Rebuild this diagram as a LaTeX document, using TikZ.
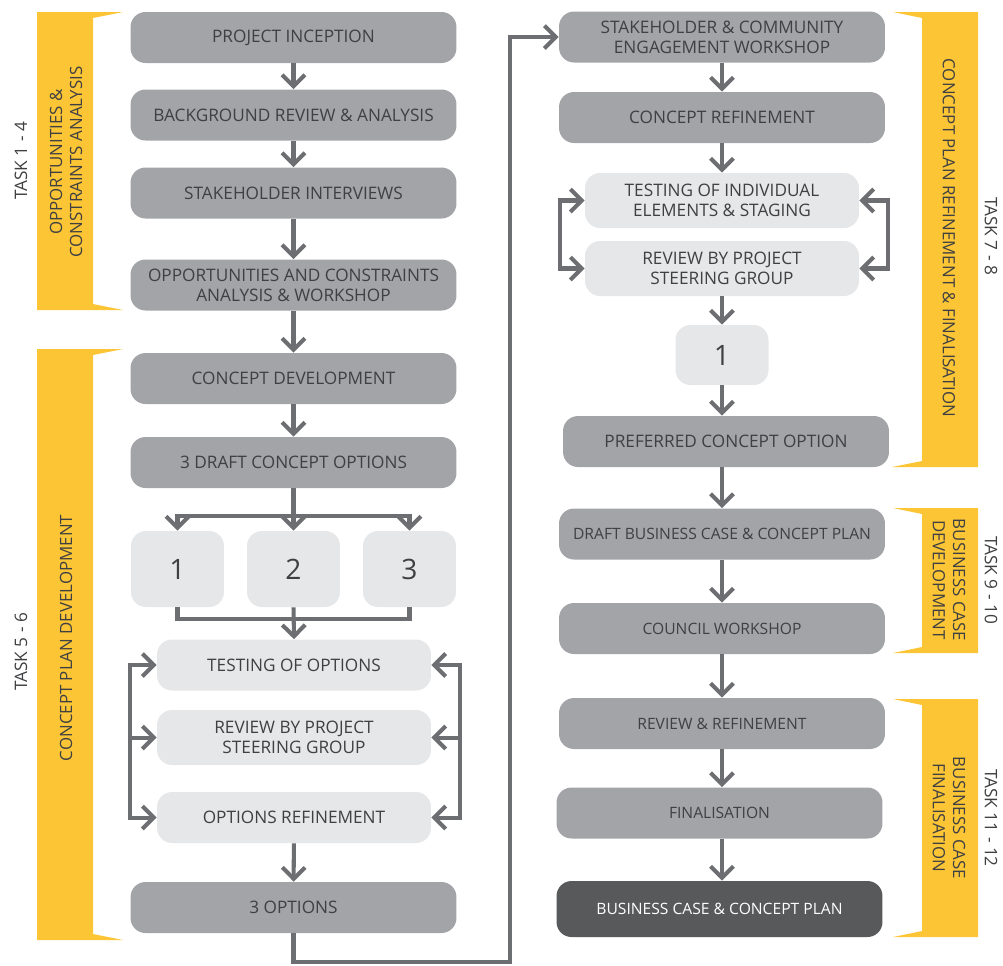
\documentclass[tikz,border=0pt]{standalone}
\usepackage{fontspec}
\setmainfont{Open Sans}
\usetikzlibrary{arrows.meta}
\definecolor{boxgrey}{HTML}{A3A4A7}
\definecolor{lightgrey}{HTML}{E6E7E8}
\definecolor{darkgrey}{HTML}{58595B}
\definecolor{arrowgrey}{HTML}{6D6E71}
\definecolor{txtgrey}{HTML}{3F4042}
\definecolor{bandyellow}{HTML}{FCC535}
\tikzset{
  box/.style={rounded corners=0.3cm, fill=boxgrey, text=txtgrey, align=center,
    minimum width=6.52cm, minimum height=1.02cm, inner sep=1pt,
    font=\fontsize{9.8}{11.4}\selectfont},
  tightbox/.style={box, font=\fontsize{8.9}{10.5}\selectfont},
  lightbox/.style={box, fill=lightgrey, minimum width=5.48cm},
  numbox/.style={box, fill=lightgrey, minimum width=1.86cm, minimum height=1.52cm,
    font=\fontsize{16}{16}\selectfont},
  finalbox/.style={tightbox, fill=darkgrey, text=white},
  flow/.style={draw=arrowgrey, line width=2.3pt, -{Straight Barb[length=6.5pt,width=13pt]}},
  twoway/.style={flow, {Straight Barb[length=6.5pt,width=13pt]}-{Straight Barb[length=6.5pt,width=13pt]}},
  plainline/.style={draw=arrowgrey, line width=2.3pt},
  band/.style={fill=bandyellow},
  bandtext/.style={text=txtgrey, align=center, font=\fontsize{9.6}{11.4}\selectfont},
  tasktext/.style={text=txtgrey, font=\fontsize{9.8}{11.4}\selectfont}
}
\begin{document}
\begin{tikzpicture}[x=0.02cm, y=-0.02cm]
\useasboundingbox (0,0) rectangle (1003,965);

\fill[band] (37,12) -- (123,12) -- (93,18) -- (93,304) -- (123,310) -- (37,310) -- cycle;
\fill[band] (37,349) -- (123,349) -- (93,355) -- (93,934) -- (123,940) -- (37,940) -- cycle;
\fill[band] (978,12) -- (893,12) -- (922,18) -- (922,461) -- (892,467) -- (978,467) -- cycle;
\fill[band] (978,508) -- (893,508) -- (922,514) -- (922,647) -- (893,653) -- (978,653) -- cycle;
\fill[band] (978,699) -- (893,699) -- (922,705) -- (922,931) -- (893,937) -- (978,937) -- cycle;

\node[bandtext, rotate=90] (oppband) at (66,162) {OPPORTUNITIES \&\\CONSTRAINTS ANALYSIS};
\node[tasktext, rotate=90] (task14) at (21,161) {TASK 1 - 4};
\node[bandtext, rotate=90] (devband) at (66,638) {CONCEPT PLAN DEVELOPMENT};
\node[tasktext, rotate=90] (task56) at (21,652) {TASK 5 - 6};
\node[bandtext, rotate=-90] (refband) at (949,238) {CONCEPT PLAN REFINEMENT \& FINALISATION};
\node[tasktext, rotate=-90] (task78) at (991,236) {TASK 7 - 8};
\node[bandtext, rotate=-90] (caseband) at (949,580) {BUSINESS CASE\\DEVELOPMENT};
\node[tasktext, rotate=-90] (task910) at (991,580) {TASK 9 - 10};
\node[bandtext, rotate=-90] (finband) at (949,818) {BUSINESS CASE\\FINALISATION};
\node[tasktext, rotate=-90] (task1112) at (991,818) {TASK 11 - 12};

\node[box] (inception) at (293.5,37.5) {PROJECT INCEPTION};
\node[box] (background) at (293.5,115) {BACKGROUND REVIEW \& ANALYSIS};
\node[box] (interviews) at (293.5,193) {STAKEHOLDER INTERVIEWS};
\node[box] (opportunities) at (293.5,285) {OPPORTUNITIES AND CONSTRAINTS\\ANALYSIS \& WORKSHOP};
\node[box] (development) at (293.5,378.5) {CONCEPT DEVELOPMENT};
\node[box] (drafts) at (293.5,462.5) {3 DRAFT CONCEPT OPTIONS};
\node[numbox] (optone) at (177.5,569) {1};
\node[numbox] (opttwo) at (293.5,569) {2};
\node[numbox] (optthree) at (409.5,569) {3};
\node[lightbox] (testing) at (294,665) {TESTING OF OPTIONS};
\node[lightbox, minimum height=1.1cm] (review) at (294,737.5) {REVIEW BY PROJECT\\STEERING GROUP};
\node[lightbox] (refine) at (294,817.5) {OPTIONS REFINEMENT};
\node[box] (threeopt) at (293.5,907.5) {3 OPTIONS};

\node[box] (engage) at (722,37) {STAKEHOLDER \& COMMUNITY\\ENGAGEMENT WORKSHOP};
\node[box] (concept) at (722,117.5) {CONCEPT REFINEMENT};
\node[lightbox, minimum height=1.1cm] (elements) at (722,200.5) {TESTING OF INDIVIDUAL\\ELEMENTS \& STAGING};
\node[lightbox, minimum height=1.1cm] (steering) at (722,268.5) {REVIEW BY PROJECT\\STEERING GROUP};
\node[numbox, minimum height=1.2cm] (one) at (722,355) {1};
\node[box] (preferred) at (726,441.5) {PREFERRED CONCEPT OPTION};
\node[tightbox] (draftcase) at (722,534) {DRAFT BUSINESS CASE \& CONCEPT PLAN};
\node[tightbox] (council) at (722,628.5) {COUNCIL WORKSHOP};
\node[tightbox] (reviewref) at (722,723.5) {REVIEW \& REFINEMENT};
\node[tightbox] (finalisation) at (719.5,813) {FINALISATION};
\node[finalbox, minimum height=1.12cm] (casebox) at (719.5,909) {BUSINESS CASE \& CONCEPT PLAN};

\draw[flow] (inception) -- (background);
\draw[flow] (background) -- (interviews);
\draw[flow] (interviews) -- (opportunities);
\draw[flow] (opportunities) -- (development);
\draw[flow] (development) -- (drafts);

\coordinate (split) at (293.5,516);
\draw[plainline] (drafts.south) -- (split);
\draw[flow] (split) -| (optone.north);
\draw[flow] (split) -| (optthree.north);
\draw[flow] (split) -- (opttwo.north);
\coordinate (merge) at (293.5,619);
\draw[plainline] (optone.south) |- (merge) -| (optthree.south);
\draw[flow] (opttwo.south) -- (testing.north);

\coordinate (leftloop) at (130,665);
\coordinate (rightloop) at (460,665);
\draw[twoway] (refine.west) -| (leftloop) -- (testing.west);
\draw[flow] (review.west -| leftloop) -- (review.west);
\draw[twoway] (refine.east) -| (rightloop) -- (testing.east);
\draw[flow] (review.east -| rightloop) -- (review.east);
\draw[flow] (refine) -- (threeopt);

\coordinate (bend) at (510,962);
\draw[flow] (threeopt.south) |- (bend) |- (engage.west);

\draw[flow] (engage) -- (concept);
\draw[flow] (concept) -- (elements);
\coordinate (innerleft) at (560,200.5);
\coordinate (innerright) at (888,200.5);
\draw[twoway] (steering.west) -| (innerleft) -- (elements.west);
\draw[twoway] (steering.east) -| (innerright) -- (elements.east);
\draw[flow] (steering) -- (one);
\draw[flow] (one) -- (one |- preferred.north);
\draw[flow] (one |- preferred.south) -- (one |- draftcase.north);
\draw[flow] (draftcase) -- (council);
\draw[flow] (council) -- (reviewref);
\draw[flow] (one |- reviewref.south) -- (one |- finalisation.north);
\draw[flow] (one |- finalisation.south) -- (one |- casebox.north);
\end{tikzpicture}
\end{document}
